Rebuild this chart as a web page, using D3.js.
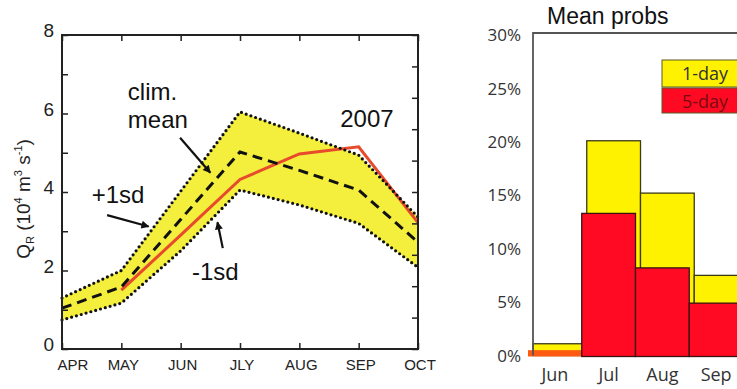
<!DOCTYPE html>
<html>
<head>
<meta charset="utf-8">
<script src="https://cdn.jsdelivr.net/npm/d3@7"></script>
<style>
  body { margin: 0; background: #fff; }
  svg { display: block; }
</style>
</head>
<body>
<div id="chart"></div>
<script>
// Left panel data (10^4 m^3 s^-1)
const months = ["APR", "MAY", "JUN", "JLY", "AUG", "SEP", "OCT"];
const climMean = [1.04, 1.58, 3.3, 5.02, 4.55, 4.05, 2.72];
const plus1sd = [1.3, 2.0, 4.02, 6.04, 5.5, 4.94, 3.36];
const minus1sd = [0.74, 1.17, 2.5, 4.05, 3.67, 3.2, 2.08];
const q2007 = [null, 1.5, 2.9, 4.32, 4.97, 5.15, 3.22];
const qTicks = [0, 2, 4, 6, 8];

// Right panel data (%)
const probMonths = ["Jun", "Jul", "Aug", "Sep"];
const oneDay = [1.1, 20.1, 15.2, 7.5];
const fiveDay = [0.5, 13.3, 8.2, 4.9];
const probTicks = [0, 5, 10, 15, 20, 25, 30];

const width = 737, height = 389;

const svg = d3.select("#chart")
    .append("svg")
    .attr("width", width)
    .attr("height", height);

const defs = svg.append("defs");
defs.append("marker")
    .attr("id", "arrow")
    .attr("viewBox", "0 0 10 10")
    .attr("refX", 9)
    .attr("refY", 5)
    .attr("markerWidth", 9)
    .attr("markerHeight", 8)
    .attr("markerUnits", "userSpaceOnUse")
    .attr("orient", "auto")
    .append("path")
    .attr("d", "M0,0 L10,5 L0,10 z")
    .attr("fill", "#111");

// ---------- left panel ----------
const box = { left: 62, right: 418, top: 35, bottom: 349 };

const x = d3.scalePoint()
    .domain(months)
    .range([box.left, box.right]);

// same positions, by month index, for the annotations
const xi = d3.scaleLinear()
    .domain([0, months.length - 1])
    .range([box.left, box.right]);

const y = d3.scaleLinear()
    .domain([0, 8])
    .range([box.bottom, box.top]);

const left = svg.append("g");

const rows = months.map((m, i) => ({
    m, mean: climMean[i], hi: plus1sd[i], lo: minus1sd[i], q: q2007[i]
}));

left.append("path")
    .datum(rows)
    .attr("fill", "#f4ee3c")
    .attr("d", d3.area()
        .x(d => x(d.m))
        .y0(d => y(d.lo))
        .y1(d => y(d.hi)));

left.append("path")
    .datum(rows)
    .attr("fill", "none")
    .attr("stroke", "#e84a2c")
    .attr("stroke-width", 3)
    .attr("d", d3.line()
        .defined(d => d.q != null)
        .x(d => x(d.m))
        .y(d => y(d.q)));

left.append("path")
    .datum(rows)
    .attr("fill", "none")
    .attr("stroke", "#111")
    .attr("stroke-width", 3)
    .attr("stroke-dasharray", "10,6")
    .attr("d", d3.line().x(d => x(d.m)).y(d => y(d.mean)));

["hi", "lo"].forEach(k => {
    left.append("path")
        .datum(rows)
        .attr("fill", "none")
        .attr("stroke", "#111")
        .attr("stroke-width", 3.2)
        .attr("stroke-linecap", "round")
        .attr("stroke-dasharray", "0,5")
        .attr("d", d3.line().x(d => x(d.m)).y(d => y(d[k])));
});

// frame with inward ticks
left.append("rect")
    .attr("x", box.left)
    .attr("y", box.top)
    .attr("width", box.right - box.left)
    .attr("height", box.bottom - box.top)
    .attr("fill", "none")
    .attr("stroke", "#222")
    .attr("stroke-width", 2);

left.append("g")
    .attr("transform", `translate(${box.left},0)`)
    .call(d3.axisRight(y).ticks(8).tickSize(6).tickFormat(""))
    .call(g => g.select(".domain").remove())
    .selectAll("line").attr("stroke", "#222").attr("stroke-width", 1.5);

const yRight = d3.scaleLinear().domain([0, 10]).range([box.bottom, box.top]);
left.append("g")
    .attr("transform", `translate(${box.right},0)`)
    .call(d3.axisLeft(yRight).ticks(10).tickSize(6).tickFormat(""))
    .call(g => g.select(".domain").remove())
    .selectAll("line").attr("stroke", "#222").attr("stroke-width", 1.5);

left.append("g")
    .attr("transform", `translate(0,${box.bottom})`)
    .call(d3.axisTop(x).tickSize(6).tickFormat(""))
    .call(g => g.select(".domain").remove())
    .selectAll("line").attr("stroke", "#222").attr("stroke-width", 1.5);

left.append("g")
    .attr("transform", `translate(0,${box.top})`)
    .call(d3.axisBottom(x).tickSize(6).tickFormat(""))
    .call(g => g.select(".domain").remove())
    .selectAll("line").attr("stroke", "#222").attr("stroke-width", 1.5);

left.selectAll(".qlabel")
    .data(qTicks)
    .enter().append("text")
    .attr("x", 54)
    .attr("y", d => y(d) + 2)
    .attr("text-anchor", "end")
    .style("font-family", "Liberation Sans, Arial, sans-serif")
    .style("font-size", "19px")
    .attr("fill", "#222")
    .text(d => d);

left.selectAll(".mlabel")
    .data(months)
    .enter().append("text")
    .attr("x", (d, i) => i === 0 ? x(d) + 11 : x(d) + 2)
    .attr("y", 370)
    .attr("text-anchor", "middle")
    .style("font-family", "Liberation Sans, Arial, sans-serif")
    .style("font-size", "15px")
    .attr("fill", "#222")
    .text(d => d);

// y title
const yt = left.append("text")
    .attr("transform", "translate(30,199) rotate(-90)")
    .attr("text-anchor", "middle")
    .style("font-family", "Liberation Sans, Arial, sans-serif")
    .style("font-size", "19px")
    .attr("fill", "#222");
yt.append("tspan").text("Q");
yt.append("tspan").attr("dy", 4).style("font-size", "11px").text("R");
yt.append("tspan").attr("dy", -4).text("  (10");
yt.append("tspan").attr("dy", -8).style("font-size", "11px").text("4");
yt.append("tspan").attr("dy", 8).text(" m");
yt.append("tspan").attr("dy", -8).style("font-size", "11px").text("3");
yt.append("tspan").attr("dy", 8).text(" s");
yt.append("tspan").attr("dy", -8).style("font-size", "11px").text("-1");
yt.append("tspan").attr("dy", 8).text(")");

// annotations (month index, value)
const notes = [
    { t: "clim.", i: 1.11, v: 6.34 },
    { t: "mean", i: 1.11, v: 5.63 },
    { t: "+1sd", i: 0.5, v: 3.72 },
    { t: "-1sd", i: 2.19, v: 1.76 },
    { t: "2007", i: 4.69, v: 5.66 }
];
const arrows = [
    { i0: 1.99, v0: 5.38, i1: 2.5, v1: 4.49 },
    { i0: 0.76, v0: 3.41, i1: 1.46, v1: 3.12 },
    { i0: 2.71, v0: 2.57, i1: 2.62, v1: 3.23 }
];

left.selectAll(".note")
    .data(notes)
    .enter().append("text")
    .attr("x", d => xi(d.i))
    .attr("y", d => y(d.v))
    .style("font-family", "Liberation Sans, Arial, sans-serif")
    .style("font-size", "24px")
    .attr("fill", "#111")
    .text(d => d.t);

left.selectAll(".arrow")
    .data(arrows)
    .enter().append("line")
    .attr("x1", d => xi(d.i0))
    .attr("y1", d => y(d.v0))
    .attr("x2", d => xi(d.i1))
    .attr("y2", d => y(d.v1))
    .attr("stroke", "#111")
    .attr("stroke-width", 2.2)
    .attr("marker-end", "url(#arrow)");

// ---------- right panel ----------
const pb = { left: 533, top: 33, bottom: 355.5 };

const xb = d3.scaleBand()
    .domain(probMonths)
    .range([528, 743]);

const yb = d3.scaleLinear()
    .domain([0, 30])
    .range([pb.bottom, pb.top + 2]);

const right = svg.append("g");
const probs = probMonths.map((m, i) => ({ m, one: oneDay[i], five: fiveDay[i] }));

right.selectAll(".bar1")
    .data(probs)
    .enter().append("rect")
    .attr("x", d => xb(d.m) + 5)
    .attr("width", xb.bandwidth())
    .attr("y", d => yb(d.one))
    .attr("height", d => pb.bottom - yb(d.one))
    .attr("fill", "#fff200")
    .attr("stroke", "#3a3a1a")
    .attr("stroke-width", 1.3);

right.selectAll(".bar5")
    .data(probs)
    .enter().append("rect")
    .attr("x", d => xb(d.m))
    .attr("width", xb.bandwidth())
    .attr("y", d => yb(d.five))
    .attr("height", d => pb.bottom - yb(d.five) + 1)
    .attr("fill", d => d.m === "Jun" ? "#ff5a12" : "#ff0a22")
    .attr("stroke", d => d.m === "Jun" ? "none" : "#3a1212")
    .attr("stroke-width", 1.3);

right.append("path")
    .attr("d", `M${pb.left},${pb.bottom}V${pb.top}H${width}`)
    .attr("fill", "none")
    .attr("stroke", "#555")
    .attr("stroke-width", 1.8);

right.selectAll(".plabel")
    .data(probTicks)
    .enter().append("text")
    .attr("x", 521)
    .attr("y", d => yb(d))
    .attr("dy", "0.36em")
    .attr("text-anchor", "end")
    .style("font-family", "Open Sans, sans-serif")
    .style("font-size", "17px")
    .attr("fill", "#333")
    .text(d => d + "%");

right.selectAll(".blabel")
    .data(probMonths)
    .enter().append("text")
    .attr("x", d => xb(d) + xb.bandwidth() / 2)
    .attr("y", 381)
    .attr("text-anchor", "middle")
    .style("font-family", "Open Sans, sans-serif")
    .style("font-size", "18px")
    .attr("fill", "#333")
    .text(d => d);

right.append("text")
    .attr("x", 547)
    .attr("y", 24)
    .style("font-family", "Liberation Sans, Arial, sans-serif")
    .style("font-size", "23px")
    .attr("fill", "#111")
    .text("Mean probs");

// legend
const legend = [
    { t: "1-day", fill: "#fff200", ink: "#333" },
    { t: "5-day", fill: "#ff0a22", ink: "#7a0a12" }
];
const lg = right.selectAll(".legend")
    .data(legend)
    .enter().append("g")
    .attr("transform", (d, i) => `translate(662,${60 + i * 28})`);
lg.append("rect")
    .attr("width", 90)
    .attr("height", (d, i) => i === 0 ? 27 : 25)
    .attr("fill", d => d.fill)
    .attr("stroke", "#5a5a2a")
    .attr("stroke-width", 1);
lg.append("text")
    .attr("x", 43)
    .attr("y", 20)
    .attr("text-anchor", "middle")
    .style("font-family", "Open Sans, sans-serif")
    .style("font-size", "18px")
    .attr("fill", d => d.ink)
    .text(d => d.t);
</script>
</body>
</html>
